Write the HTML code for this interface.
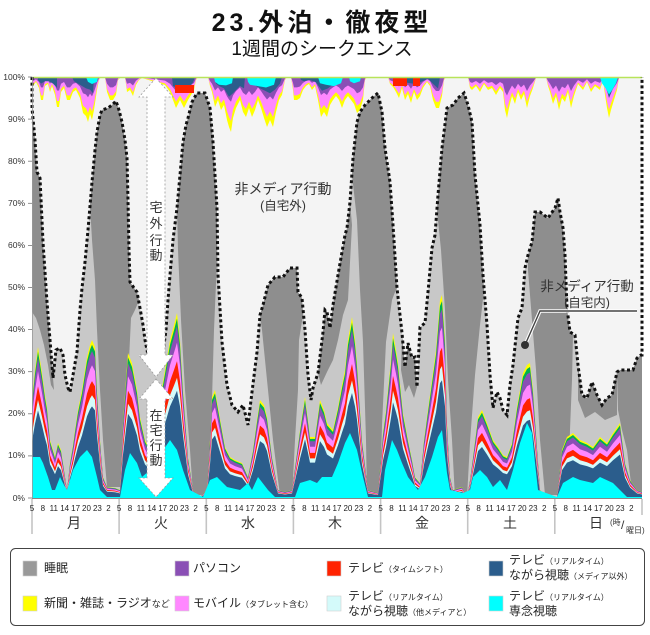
<!DOCTYPE html>
<html><head><meta charset="utf-8">
<style>
html,body{margin:0;padding:0;background:#fff;}
svg{display:block;font-family:"Liberation Sans","Noto Sans CJK JP",sans-serif;}
</style></head>
<body>
<svg width="650" height="635" viewBox="0 0 650 635" xmlns="http://www.w3.org/2000/svg">
<defs>
<polygon id="mp" points="32,498 32,400 35,370 38,347 42,373 45,395 47,407 50,440 53,450 55,457 58,443 61,450 63,463 67,490 70,463 73,445 75,430 78,410 82,390 85,370 87,357 90,345 92,340 95,347 97,390 100,440 103,477 107,487 115,488 120,490 123,423 126,380 128,353 132,363 137,390 140,417 145,440 150,450 155,430 160,400 165,370 170,340 174,325 177,313 180,340 183,390 186,430 188,457 193,490 200,497 207,490 210,440 212,397 215,390 218,407 222,430 225,447 230,457 235,460 242,463 248,477 253,450 257,420 260,400 264,405 267,417 272,457 278,490 285,492 292,490 296,460 300,430 303,410 305,397 308,420 310,437 315,437 320,400 324,410 327,423 333,430 338,407 342,385 345,370 348,340 352,317 355,340 357,363 360,410 362,440 368,490 378,493 383,433 386,410 388,390 391,360 393,333 396,350 398,363 403,413 408,440 412,460 415,477 420,483 424,440 427,417 432,380 436,350 440,300 442,295 445,340 447,423 450,477 453,490 462,487 467,497 470,480 473,457 478,417 482,410 487,423 493,440 498,447 503,455 507,457 512,443 517,407 520,390 523,373 527,365 530,363 533,390 537,447 540,490 547,497 557,497 562,450 567,437 573,433 580,440 587,443 593,447 600,437 607,443 613,433 620,423 625,463 630,480 637,490 642,492 642,498"/>
<polygon id="tp" points="32,77 33,86 36,82 39,88 41,100 43,100 45,86 48,84 50,92 52,86 55,95 57,107 59,107 61,92 64,88 67,100 70,100 73,92 76,90 80,98 83,113 86,116 88,122 90,114 92,120 94,110 97,90 99,80 101,77 105,77 107,92 110,100 113,100 116,95 118,80 121,77 125,77 127,92 130,90 133,96 136,85 139,80 142,78 165,85 170,92 173,100 176,108 180,100 184,108 188,100 191,95 194,90 196,80 198,77 208,77 210,86 212,92 215,107 218,100 221,110 224,105 227,120 229,127 231,132 233,118 236,108 240,100 243,112 246,117 249,108 252,117 255,110 258,100 261,108 264,118 267,127 270,120 273,127 276,112 279,100 282,95 285,80 287,77 291,77 293,90 294,100 297,100 300,98 303,90 306,86 309,84 312,90 315,86 318,100 321,117 324,112 327,117 330,105 333,100 336,96 339,100 342,108 345,100 348,96 351,100 354,104 357,113 360,110 363,100 365,80 367,77 388,77 390,84 393,87 396,92 399,98 402,88 405,100 408,94 411,103 414,92 417,100 420,96 423,88 427,82 430,86 433,100 436,108 439,108 442,96 444,80 446,77 468,77 470,88 472,90 476,86 480,92 484,84 488,90 492,88 496,95 500,88 503,92 505,110 507,118 509,108 512,96 515,104 518,92 521,100 524,94 527,108 530,96 533,88 536,78 538,77 546,77 548,86 550,92 553,104 556,96 559,110 562,98 565,102 568,92 571,108 574,96 578,84 583,90 587,82 591,92 595,86 600,90 603,80 605,95 607,108 609,118 611,110 614,100 617,90 619,78 621,77 642,77"/>
</defs>

<!-- title -->
<text x="322" y="31" text-anchor="middle" font-size="25" font-weight="bold" letter-spacing="4" fill="#111">23.外泊・徹夜型</text>
<text x="322" y="55" text-anchor="middle" font-size="19" fill="#111">1週間のシークエンス</text>

<!-- chart background (out of home) -->
<rect x="32" y="77" width="610" height="421" fill="#f4f4f4"/>

<!-- home non-media (light gray) -->
<polygon fill="#c8c8c8" points="32,498 32,108 35,140 37,172 40,178 43,242 47,302 50,340 53,378 56,350 60,348 63,355 65,375 68,388 70,392 73,375 77,352 80,310 82,288 85,262 88,230 92,182 95,150 97,132 100,115 102,110 108,108 112,105 116,101 119,110 122,122 125,140 127,158 128,200 129,250 130,282 134,288 137,292 140,308 143,325 145,340 148,355 152,368 156,372 160,362 164,345 166,330 168,300 170,275 173,240 177,208 180,175 183,142 186,125 188,118 192,102 197,93 205,93 210,108 213,142 217,208 218,275 222,342 227,385 232,405 238,412 243,405 248,425 252,392 257,352 260,315 263,305 268,285 275,277 283,277 290,268 297,268 298,292 302,298 305,330 308,375 311,400 313,388 318,373 323,332 325,310 327,312 330,328 333,305 338,275 342,252 345,235 347,228 350,202 353,158 357,122 360,112 365,105 372,98 378,93 382,112 385,148 390,182 393,225 397,288 400,315 402,333 405,367 408,343 412,358 415,357 417,387 420,327 425,323 428,292 432,248 435,235 438,195 442,148 447,108 453,105 458,98 464,93 468,105 472,122 475,175 480,225 483,275 487,325 490,375 493,408 497,392 500,398 503,410 507,415 510,385 513,365 518,318 522,308 525,268 528,255 532,242 535,212 540,212 548,218 555,208 558,198 560,212 563,228 565,255 567,308 570,332 575,335 578,365 582,395 587,398 592,382 597,395 602,405 607,398 612,395 617,372 620,370 633,370 637,358 641,355 642,355 642,498"/>

<!-- sleep (dark gray) -->
<g fill="#8e8e8e">
<polygon points="32,108 35,140 37,172 40,178 43,242 47,302 50,340 53,378 54,390 51,385 48,365 44,345 40,330 36,318 32,312"/>
<polygon points="90,205 92,182 95,150 97,132 100,115 102,110 108,108 112,105 116,101 119,110 122,122 125,140 127,158 128,200 129,250 130,282 134,288 137,292 139,300 135,310 131,318 129,360 127,400 124,450 122,487 107,487 103,440 100,390 97,330 95,280 92,240"/>
<polygon points="177,208 180,175 183,142 186,125 188,118 192,102 197,93 205,93 210,108 213,142 217,208 217,260 214,330 212,400 210,450 208,495 193,495 190,450 185,390 181,320 178,250"/>
<polygon points="260,315 263,305 268,285 275,277 283,277 290,268 297,268 298,292 302,298 303,315 299,340 298,390 295,440 293,480 292,495 280,495 278,480 273,440 268,390 265,360 262,330"/>
<polygon points="318,373 323,332 325,310 327,312 330,328 333,305 338,275 342,252 345,235 347,228 350,202 352,225 348,300 343,315 338,340 333,360 327,372 321,385"/>
<polygon points="352,175 353,158 357,122 360,112 365,105 372,98 378,93 382,112 385,148 390,182 393,225 397,288 395,292 392,300 386,342 382,425 380,498 367,498 366,440 363,342 360,290 357,220"/>
<polygon points="402,333 405,367 408,343 412,358 415,357 417,387 414,398 409,385 405,392 401,370"/>
<polygon points="437,210 438,195 442,148 447,108 453,105 458,98 464,93 468,105 472,122 475,175 480,225 483,275 484,290 480,325 475,375 470,442 467,498 455,498 452,440 448,380 445,310 441,250"/>
<polygon points="528,255 532,242 535,212 540,212 548,218 555,208 558,198 560,212 563,228 565,255 567,308 570,332 573,334 572,380 570,430 568,495 545,495 540,440 536,370 532,320 528,270"/>
<polygon points="578,365 582,395 587,398 592,382 597,395 602,405 607,398 612,395 617,372 617,415 605,420 595,412 585,418 578,400"/>
<polygon points="617,372 620,370 633,370 637,358 641,355 642,355 642,492 632,492 627,450 622,430 618,410"/>
</g>

<!-- home media layers -->
<use href="#mp" fill="#ffff00"/>
<use href="#mp" fill="#00b050" transform="translate(0,498) scale(1,0.97) translate(0,-498)"/>
<use href="#mp" fill="#8a4fb5" transform="translate(0,498) scale(1,0.93) translate(0,-498)"/>
<use href="#mp" fill="#ff88ff" transform="translate(0,498) scale(1,0.84) translate(0,-498)"/>
<use href="#mp" fill="#ff2200" transform="translate(0,498) scale(1,0.74) translate(0,-498)"/>
<use href="#mp" fill="#d4fafa" transform="translate(0,498) scale(1,0.65) translate(0,-498)"/>
<use href="#mp" fill="#2b5d8c" transform="translate(0,498) scale(1,0.58) translate(0,-498)"/>
<polygon fill="#00ffff" points="32,498 32,457 40,457 43,463 48,477 52,490 55,490 60,477 64,485 67,490 73,470 80,457 87,450 92,457 97,477 100,490 107,497 120,497 125,470 130,453 137,463 142,477 150,470 160,455 170,440 177,450 183,470 190,490 203,497 210,480 217,477 227,487 240,490 248,483 252,490 258,477 268,490 275,497 295,497 300,483 310,480 317,483 322,477 332,477 338,463 345,443 350,433 357,450 363,477 368,497 382,497 385,470 392,440 397,450 402,463 408,477 418,490 425,477 432,457 438,437 442,430 447,473 450,490 463,493 470,490 473,477 480,470 487,477 493,487 500,480 507,490 513,470 520,443 527,423 532,433 535,463 538,490 557,497 563,483 573,477 580,480 593,483 600,477 613,483 620,490 627,497 642,497 642,498"/>

<!-- out-of-home media (top strip) -->
<use href="#tp" fill="#ffff00"/>
<use href="#tp" fill="#ff88ff" transform="translate(0,77) scale(1,0.8) translate(0,-77)"/>
<use href="#tp" fill="#8a4fb5" transform="translate(0,77) scale(1,0.45) translate(0,-77)"/>
<g fill="#2b5d8c" transform="translate(0,77) scale(1,0.6) translate(0,-77)">
<polygon points="38,77 57,77 57,95 53,88 49,84 45,84 41,88 38,82"/>
<polygon points="72,77 94,77 93,104 90,98 86,96 82,92 78,88 74,84"/>
<polygon points="172,77 195,77 193,86 189,94 184,98 178,96 173,92"/>
<polygon points="215,77 245,77 244,96 240,92 233,104 229,110 224,96 219,92 216,88"/>
<polygon points="255,77 282,77 280,88 275,98 270,104 265,100 260,96 256,92"/>
<polygon points="300,77 336,77 334,88 328,96 322,100 316,86 310,82 304,84 301,82"/>
<polygon points="395,77 440,77 438,96 434,90 428,80 420,86 413,88 405,86 398,84"/>
<polygon points="601,77 616,77 614,92 611,104 609,112 607,100 604,88"/>
</g>
<g fill="#00ffff" transform="translate(0,77) scale(1,0.7) translate(0,-77)">
<polygon points="86,77 98,77 97,84 92,87 88,84"/>
<polygon points="214,77 233,77 232,86 226,89 219,88 215,84"/>
<polygon points="247,77 276,77 274,88 266,92 258,90 250,88 248,84"/>
<polygon points="318,77 343,77 341,86 334,90 326,88 320,86"/>
<polygon points="349,77 361,77 360,83 354,86 350,83"/>
<polygon points="600,77 618,77 616,86 612,96 609,102 606,94 602,86"/>
</g>
<g fill="#ff2200">
<rect x="175" y="85" width="19" height="8"/>
<rect x="393" y="78" width="14" height="8"/>
<rect x="413" y="78" width="7" height="8"/>
</g>
<line x1="32" y1="77.5" x2="642" y2="77.5" stroke="#b8e45a" stroke-width="1.6"/>

<!-- dotted boundary -->
<polyline fill="none" stroke="#111" stroke-width="3" stroke-dasharray="3 2.6" points="32,77 32,108 35,140 37,172 40,178 43,242 47,302 50,340 53,378 56,350 60,348 63,355 65,375 68,388 70,392 73,375 77,352 80,310 82,288 85,262 88,230 92,182 95,150 97,132 100,115 102,110 108,108 112,105 116,101 119,110 122,122 125,140 127,158 128,200 129,250 130,282 134,288 137,292 140,308 143,325 145,340 148,355 152,368 156,372 160,362 164,345 166,330 168,300 170,275 173,240 177,208 180,175 183,142 186,125 188,118 192,102 197,93 205,93 210,108 213,142 217,208 218,275 222,342 227,385 232,405 238,412 243,405 248,425 252,392 257,352 260,315 263,305 268,285 275,277 283,277 290,268 297,268 298,292 302,298 305,330 308,375 311,400 313,388 318,373 323,332 325,310 327,312 330,328 333,305 338,275 342,252 345,235 347,228 350,202 353,158 357,122 360,112 365,105 372,98 378,93 382,112 385,148 390,182 393,225 397,288 400,315 402,333 405,367 408,343 412,358 415,357 417,387 420,327 425,323 428,292 432,248 435,235 438,195 442,148 447,108 453,105 458,98 464,93 468,105 472,122 475,175 480,225 483,275 487,325 490,375 493,408 497,392 500,398 503,410 507,415 510,385 513,365 518,318 522,308 525,268 528,255 532,242 535,212 540,212 548,218 555,208 558,198 560,212 563,228 565,255 567,308 570,332 575,335 578,365 582,395 587,398 592,382 597,395 602,405 607,398 612,395 617,372 620,370 633,370 637,358 641,355 642,355 642,77"/>

<!-- arrows -->
<polygon points="156,78 173,97 165,97 165,355 173,355 156,377 139,355 147,355 147,97 139,97" fill="#fff" stroke="#9a9a9a" stroke-width="0.8" stroke-dasharray="2 2"/>
<polygon points="156,379 173,399 165,399 165,478 173,478 156,497 139,478 147,478 147,399 139,399" fill="#fff" stroke="#9a9a9a" stroke-width="0.8" stroke-dasharray="2 2"/>
<g font-size="13" fill="#333" text-anchor="middle">
<text x="156" y="212">宅</text><text x="156" y="228">外</text><text x="156" y="245">行</text><text x="156" y="260">動</text>
<text x="156" y="420">在</text><text x="156" y="435">宅</text><text x="156" y="450">行</text><text x="156" y="465">動</text>
</g>

<!-- annotations -->
<text x="283" y="194" text-anchor="middle" font-size="14" fill="#333">非メディア行動</text>
<text x="283" y="210" text-anchor="middle" font-size="12.5" fill="#333">(自宅外)</text>
<text x="587" y="291" text-anchor="middle" font-size="13.5" fill="#333">非メディア行動</text>
<text x="587" y="307" text-anchor="middle" font-size="12.5" fill="#333">(自宅内)</text>
<polyline points="637,311 540,311 525,345" fill="none" stroke="#fff" stroke-width="3.5"/>
<polyline points="637,311 540,311 525,345" fill="none" stroke="#444" stroke-width="1.4"/>
<circle cx="525" cy="345" r="4" fill="#333"/>

<!-- axes -->
<line x1="32.5" y1="77" x2="32.5" y2="498" stroke="#999" stroke-width="0.8"/>
<line x1="32" y1="498.5" x2="642" y2="498.5" stroke="#888" stroke-width="1"/>
<g stroke="#777" stroke-width="0.8">
<line x1="28" y1="77" x2="32" y2="77"/><line x1="28" y1="119.1" x2="32" y2="119.1"/><line x1="28" y1="161.2" x2="32" y2="161.2"/><line x1="28" y1="203.3" x2="32" y2="203.3"/><line x1="28" y1="245.4" x2="32" y2="245.4"/><line x1="28" y1="287.5" x2="32" y2="287.5"/><line x1="28" y1="329.6" x2="32" y2="329.6"/><line x1="28" y1="371.7" x2="32" y2="371.7"/><line x1="28" y1="413.8" x2="32" y2="413.8"/><line x1="28" y1="455.9" x2="32" y2="455.9"/><line x1="28" y1="498" x2="32" y2="498"/>
</g>
<g font-size="8.5" fill="#333" text-anchor="end">
<text x="25" y="80">100%</text><text x="25" y="122">90%</text><text x="25" y="164">80%</text><text x="25" y="206">70%</text><text x="25" y="248">60%</text><text x="25" y="290">50%</text><text x="25" y="332">40%</text><text x="25" y="374">30%</text><text x="25" y="416">20%</text><text x="25" y="458">10%</text><text x="25" y="501">0%</text>
</g>

<!-- day separators -->
<g stroke="#c4c4c4" stroke-width="1.6">
<line x1="32" y1="499" x2="32" y2="534"/><line x1="119.1" y1="499" x2="119.1" y2="534"/><line x1="206.3" y1="499" x2="206.3" y2="534"/><line x1="293.4" y1="499" x2="293.4" y2="534"/><line x1="380.6" y1="499" x2="380.6" y2="534"/><line x1="467.7" y1="499" x2="467.7" y2="534"/><line x1="554.8" y1="499" x2="554.8" y2="534"/><line x1="642" y1="499" x2="642" y2="515"/>
</g>

<!-- hour ticks -->
<g font-size="8" fill="#222" text-anchor="middle">
<text x="32" y="511">5</text><text x="42.9" y="511">8</text><text x="53.8" y="511">11</text><text x="64.7" y="511">14</text><text x="75.6" y="511">17</text><text x="86.5" y="511">20</text><text x="97.4" y="511">23</text><text x="108.5" y="511">2</text>
<text x="119.1" y="511">5</text><text x="130" y="511">8</text><text x="140.9" y="511">11</text><text x="151.8" y="511">14</text><text x="162.7" y="511">17</text><text x="173.6" y="511">20</text><text x="184.5" y="511">23</text><text x="195.6" y="511">2</text>
<text x="206.3" y="511">5</text><text x="217.2" y="511">8</text><text x="228.1" y="511">11</text><text x="239" y="511">14</text><text x="249.9" y="511">17</text><text x="260.8" y="511">20</text><text x="271.6" y="511">23</text><text x="282.7" y="511">2</text>
<text x="293.4" y="511">5</text><text x="304.3" y="511">8</text><text x="315.2" y="511">11</text><text x="326.1" y="511">14</text><text x="337" y="511">17</text><text x="347.9" y="511">20</text><text x="358.8" y="511">23</text><text x="369.9" y="511">2</text>
<text x="380.6" y="511">5</text><text x="391.5" y="511">8</text><text x="402.4" y="511">11</text><text x="413.2" y="511">14</text><text x="424.1" y="511">17</text><text x="435" y="511">20</text><text x="445.9" y="511">23</text><text x="457" y="511">2</text>
<text x="467.7" y="511">5</text><text x="478.6" y="511">8</text><text x="489.5" y="511">11</text><text x="500.4" y="511">14</text><text x="511.3" y="511">17</text><text x="522.2" y="511">20</text><text x="533.1" y="511">23</text><text x="544.2" y="511">2</text>
<text x="554.8" y="511">5</text><text x="565.7" y="511">8</text><text x="576.6" y="511">11</text><text x="587.5" y="511">14</text><text x="598.4" y="511">17</text><text x="609.3" y="511">20</text><text x="620.2" y="511">23</text><text x="631.3" y="511">2</text>
</g>
<g font-size="14" fill="#333" text-anchor="middle">
<text x="74" y="528">月</text><text x="161" y="528">火</text><text x="248" y="528">水</text><text x="335" y="528">木</text><text x="422" y="528">金</text><text x="510" y="528">土</text><text x="596" y="528">日</text>
</g>
<text x="610" y="525" font-size="8" fill="#333">(時</text>
<text x="621" y="529" font-size="12" fill="#333">/</text>
<text x="626" y="533" font-size="8" fill="#333">曜日)</text>

<!-- legend -->
<rect x="10.5" y="548.5" width="634" height="77" rx="5" ry="5" fill="#fff" stroke="#444" stroke-width="1"/>
<g stroke="#d0d0d0" stroke-width="0.6">
<rect x="23" y="561" width="14" height="15" fill="#999"/>
<rect x="175" y="561" width="14" height="15" fill="#8a4fb5"/>
<rect x="327" y="561" width="14" height="15" fill="#ff2200"/>
<rect x="489" y="561" width="14" height="15" fill="#2b5d8c"/>
<rect x="23" y="596" width="14" height="15" fill="#ffff00"/>
<rect x="175" y="596" width="14" height="15" fill="#ff88ff"/>
<rect x="327" y="596" width="14" height="15" fill="#d4fafa"/>
<rect x="489" y="596" width="14" height="15" fill="#00ffff"/>
</g>
<g font-size="12" fill="#222">
<text x="44" y="572">睡眠</text>
<text x="193" y="572">パソコン</text>
<text x="348" y="572">テレビ<tspan font-size="8">（タイムシフト）</tspan></text>
<text x="509" y="564">テレビ<tspan font-size="8">（リアルタイム）</tspan></text>
<text x="509" y="579">ながら視聴<tspan font-size="8">（メディア以外）</tspan></text>
<text x="44" y="607">新聞・雑誌・ラジオ<tspan font-size="9">など</tspan></text>
<text x="193" y="607">モバイル<tspan font-size="8">（タブレット含む）</tspan></text>
<text x="348" y="600">テレビ<tspan font-size="8">（リアルタイム）</tspan></text>
<text x="348" y="615">ながら視聴<tspan font-size="8">（他メディアと）</tspan></text>
<text x="509" y="600">テレビ<tspan font-size="8">（リアルタイム）</tspan></text>
<text x="509" y="615">専念視聴</text>
</g>
</svg>
</body></html>
